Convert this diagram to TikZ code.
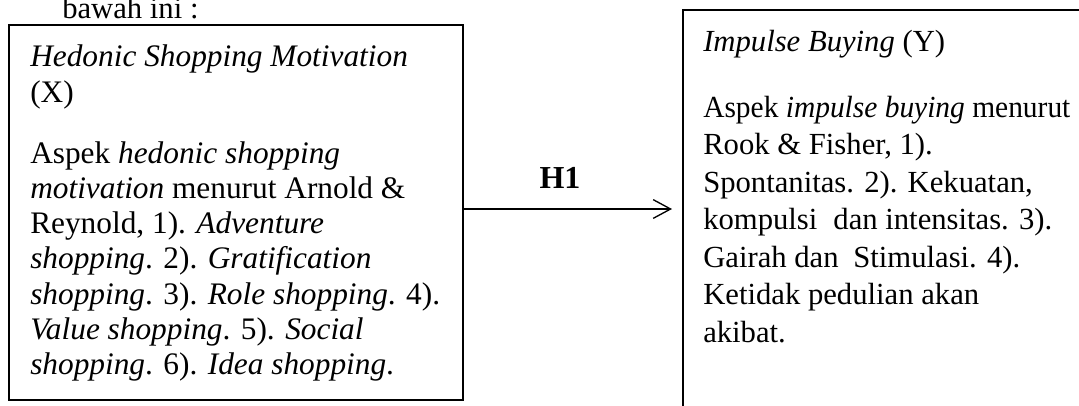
\documentclass[tikz,border=0pt]{standalone}
\usepackage{fontspec}
\setmainfont{Liberation Serif}
\usetikzlibrary{arrows.meta}
\begin{document}
\begin{tikzpicture}[x=0.75pt,y=-0.75pt,
  txt/.style={anchor=base west,inner sep=0pt,font=\fontsize{23}{27}\selectfont},
  ltxt/.style={txt,font=\fontsize{23.5}{27}\selectfont},
  box/.style={draw,line width=1.5pt,inner sep=0pt},
  arr/.style={line width=1pt,-{Straight Barb[length=13pt,width=14pt,line width=1pt]}}]
\useasboundingbox (0,0) rectangle (1079,405);
\clip (0,0) rectangle (1079,405);
\fill[white] (0,0) rectangle (1079,405);
% boxes
\node[box,minimum width=340.5pt,minimum height=281.25pt] (L) at (236,212.5) {};
\node[box,minimum width=305.25pt,minimum height=307.5pt] (R) at (886.5,215) {};
% top text
\node[txt] (top) at (62,18.5) {bawah ini :};
% left box text
\node[ltxt] (l1) at (30,66.5) {\textit{Hedonic Shopping Motivation}};
\node[ltxt] (l2) at (30,102) {(X)};
\node[ltxt] (l3) at (30,163) {Aspek \textit{hedonic shopping}};
\node[ltxt] (l4) at (30,198.3) {\textit{motivation} menurut Arnold \&};
\node[ltxt] (l5) at (30,233.6) {Reynold, 1). \textit{Adventure}};
\node[ltxt] (l6) at (30,268.9) {\textit{shopping}. 2). \textit{Gratification}};
\node[ltxt] (l7) at (30,304.2) {\textit{shopping}. 3). \textit{Role shopping}. 4).};
\node[ltxt] (l8) at (30,339.5) {\textit{Value shopping}. 5). \textit{Social}};
\node[ltxt] (l9) at (30,374.8) {\textit{shopping}. 6). \textit{Idea shopping}.};
% right box text
\node[txt] (r1) at (703,51) {\textit{Impulse Buying} (Y)};
\node[txt] (r2) at (703,117) {\scalebox{0.96}[1]{Aspek \textit{impulse buying} menurut}};
\node[txt] (r3) at (703,154.5) {Rook \& Fisher, 1).};
\node[txt] (r4) at (703,192) {Spontanitas. 2). Kekuatan,};
\node[txt] (r5) at (703,229.5) {kompulsi\hspace{12pt}dan intensitas. 3).};
\node[txt] (r6) at (703,267) {Gairah dan\hspace{11pt}Stimulasi. 4).};
\node[txt] (r7) at (703,304.5) {Ketidak pedulian akan};
\node[txt] (r8) at (703,342) {akibat.};
% arrow
\node[anchor=base,inner sep=0pt,font=\fontsize{24}{28}\selectfont\bfseries] (h1) at (560,188) {H1};
\coordinate (tip) at (672,209);
\draw[arr] (L.east |- tip) -- (tip);
\end{tikzpicture}
\end{document}
